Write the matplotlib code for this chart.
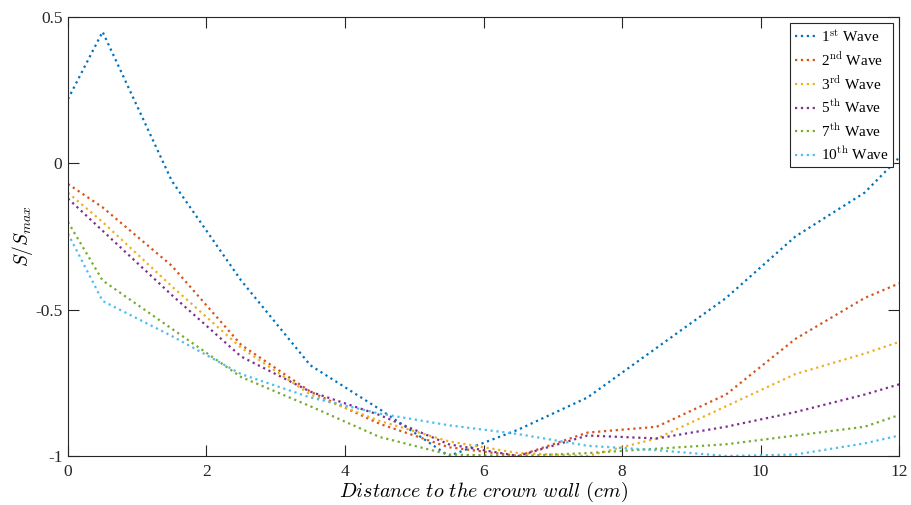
import numpy as np
import matplotlib
matplotlib.use('Agg')
import matplotlib.pyplot as plt

plt.rcParams['font.family'] = ['Liberation Serif', 'DejaVu Serif']
plt.rcParams['mathtext.fontset'] = 'cm'

# Data
x = [0, 0.5, 1.5, 2.5, 3.5, 4.5, 5.5, 6.5, 7.5, 8.5, 9.5, 10.5, 11.5, 12]
wave1 = [0.22, 0.45, -0.06, -0.40, -0.69, -0.84, -1.00, -0.91, -0.80, -0.63, -0.46, -0.25, -0.10, 0.02]
wave2 = [-0.07, -0.15, -0.35, -0.62, -0.78, -0.89, -0.97, -1.00, -0.92, -0.90, -0.79, -0.60, -0.46, -0.41]
wave3 = [-0.10, -0.20, -0.42, -0.63, -0.79, -0.88, -0.95, -0.99, -1.00, -0.94, -0.83, -0.72, -0.65, -0.61]
wave5 = [-0.12, -0.23, -0.45, -0.66, -0.78, -0.86, -0.96, -1.00, -0.93, -0.94, -0.90, -0.85, -0.79, -0.755]
wave7 = [-0.20, -0.40, -0.565, -0.73, -0.83, -0.935, -0.995, -1.00, -0.99, -0.975, -0.96, -0.93, -0.90, -0.86]
wave10 = [-0.24, -0.47, -0.59, -0.72, -0.80, -0.855, -0.895, -0.925, -0.965, -0.98, -1.00, -0.995, -0.957, -0.93]

series = [wave1, wave2, wave3, wave5, wave7, wave10]
labels = [r'1$^{\mathrm{st}}$ Wave', r'2$^{\mathrm{nd}}$ Wave', r'3$^{\mathrm{rd}}$ Wave',
          r'5$^{\mathrm{th}}$ Wave', r'7$^{\mathrm{th}}$ Wave', r'10$^{\mathrm{th}}$ Wave']
colors = ['#0072BD', '#D95319', '#EDB120', '#7E2F8E', '#77AC30', '#4DBEEE']

fig = plt.figure(figsize=(9.11, 5.05), dpi=100)
ax = fig.add_axes([0.0746, 0.097, 0.9124, 0.869])

for y, lab, c in zip(series, labels, colors):
    ax.plot(x, y, ls=':', lw=1.6, color=c, label=lab)

ax.set_xlim(0, 12)
ax.set_ylim(-1, 0.5)
ax.set_xticks(np.arange(0, 13, 2))
ax.set_yticks([-1, -0.5, 0, 0.5])
ax.set_yticklabels(['-1', '-0.5', '0', '0.5'])
ax.tick_params(direction='in', length=8, width=0.8, top=True, right=True,
               labelsize=12.5, colors='0.15')
ax.tick_params(axis='x', pad=6)
ax.tick_params(axis='y', pad=4)
for s in ax.spines.values():
    s.set_linewidth(0.8)
    s.set_color('0.15')

ax.set_xlabel(r'$Distance\ to\ the\ crown\ wall\ (cm)$', fontsize=14.5, labelpad=0)
ax.set_ylabel(r'$S/S_{max}$', fontsize=14, labelpad=0)

leg = ax.legend(loc='upper right', fontsize=11, handlelength=1.3, handletextpad=0.4,
                borderpad=0.3, labelspacing=0.38, fancybox=False, framealpha=1,
                borderaxespad=0.4)
leg.get_frame().set_edgecolor('0.15')
leg.get_frame().set_linewidth(0.8)

fig.savefig('out.png', dpi=100)
